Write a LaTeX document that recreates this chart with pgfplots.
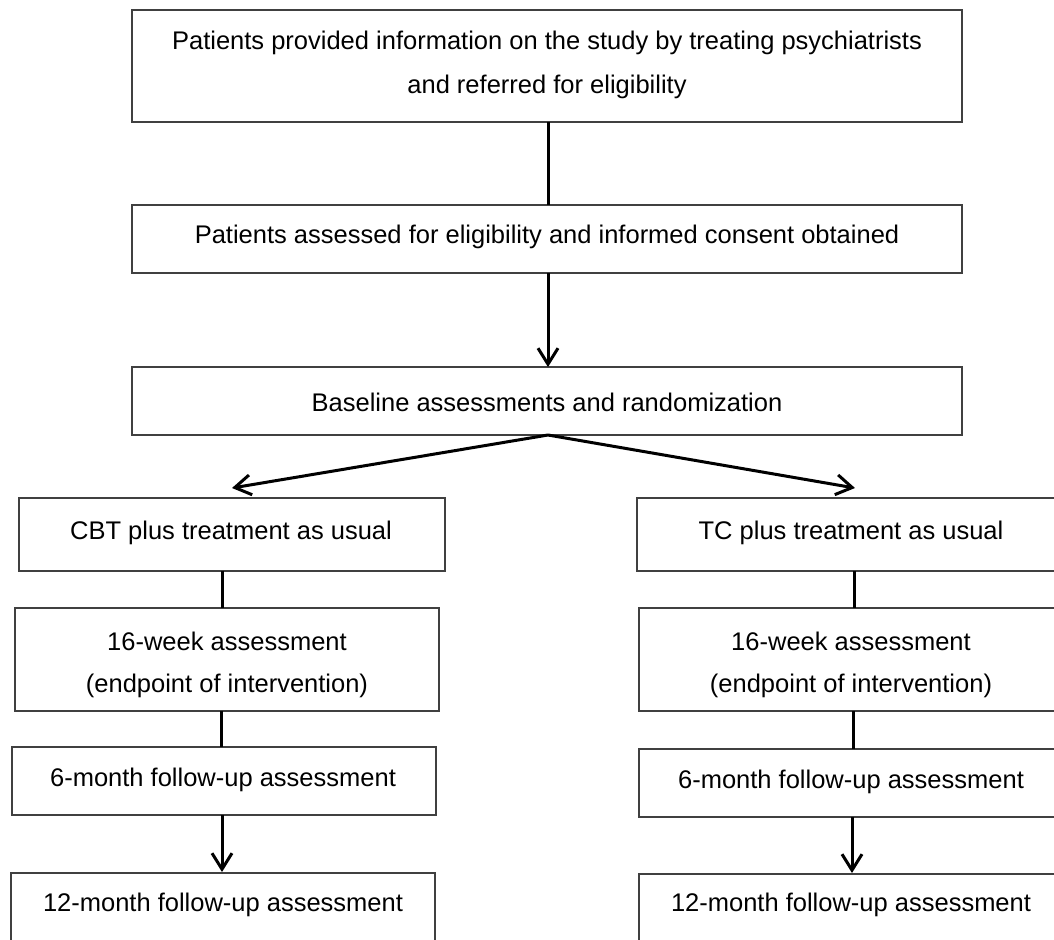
\documentclass[border=0pt]{standalone}
\usepackage{pgfplots}
\pgfplotsset{compat=1.18}
\usepackage{fontspec}
\setmainfont{Liberation Sans}
\usetikzlibrary{arrows.meta}
\tikzset{lab/.style={font=\fontsize{12.75}{15}\selectfont,text=black,inner sep=0pt}}
\begin{document}
\begin{tikzpicture}
\begin{axis}[width=527pt,height=469.5pt,scale only axis,
  xmin=0,xmax=1054,ymin=0,ymax=939,y dir=reverse,hide axis,clip=true,
  boxline/.style={draw=black!75,line width=0.85pt,mark=none},
  conn/.style={draw=black,line width=1.5pt,mark=none},
  arr/.style={draw=black,line width=1.5pt,mark=none,-{Straight Barb[length=8pt,width=10pt]}}]
\path (rel axis cs:0,0) rectangle (rel axis cs:1,1);
% boxes
\addplot[boxline] coordinates {(132,10) (962,10) (962,122) (132,122)} -- cycle;
\addplot[boxline] coordinates {(132,205) (962,205) (962,273) (132,273)} -- cycle;
\addplot[boxline] coordinates {(132,367) (962,367) (962,435) (132,435)} -- cycle;
\addplot[boxline] coordinates {(19,498) (445,498) (445,571) (19,571)} -- cycle;
\addplot[boxline] coordinates {(637,498) (1070,498) (1070,571) (637,571)} -- cycle;
\addplot[boxline] coordinates {(15,608) (439,608) (439,711) (15,711)} -- cycle;
\addplot[boxline] coordinates {(639,608) (1070,608) (1070,711) (639,711)} -- cycle;
\addplot[boxline] coordinates {(12,747) (436,747) (436,815) (12,815)} -- cycle;
\addplot[boxline] coordinates {(639,749) (1070,749) (1070,817) (639,817)} -- cycle;
\addplot[boxline] coordinates {(11,873) (435,873) (435,990) (11,990)} -- cycle;
\addplot[boxline] coordinates {(639,874) (1070,874) (1070,990) (639,990)} -- cycle;
% connectors
\addplot[conn] coordinates {(548,122) (548,205)};
\addplot[arr] coordinates {(548,273) (548,367)};
\addplot[arr] coordinates {(548,435) (232,488)};
\addplot[arr] coordinates {(548,435) (855,488)};
\addplot[conn] coordinates {(222,571) (222,608)};
\addplot[conn] coordinates {(854,571) (854,608)};
\addplot[conn] coordinates {(221,711) (221,747)};
\addplot[conn] coordinates {(853,711) (853,749)};
\addplot[arr] coordinates {(222,815) (222,872)};
\addplot[arr] coordinates {(852,817) (852,873)};
% texts
\node[lab] at (547,43) {Patients provided information on the study by treating psychiatrists};
\node[lab] at (547,87) {and referred for eligibility};
\node[lab] at (547,237) {Patients assessed for eligibility and informed consent obtained};
\node[lab] at (547,402) {Baseline assessments and randomization};
\node[lab] at (231,533) {CBT plus treatment as usual};
\node[lab] at (851,533) {TC plus treatment as usual};
\node[lab] at (227,641) {16-week assessment};
\node[lab] at (227,686) {(endpoint of intervention)};
\node[lab] at (851,641) {16-week assessment};
\node[lab] at (851,686) {(endpoint of intervention)};
\node[lab] at (223,780) {6-month follow-up assessment};
\node[lab] at (851,782) {6-month follow-up assessment};
\node[lab] at (223,905) {12-month follow-up assessment};
\node[lab] at (851,905) {12-month follow-up assessment};
\end{axis}
\end{tikzpicture}
\end{document}
